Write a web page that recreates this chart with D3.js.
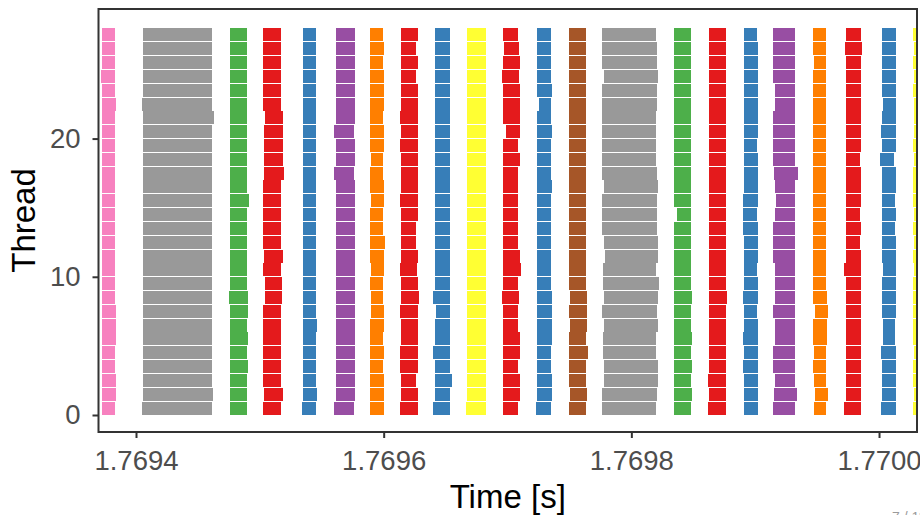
<!DOCTYPE html>
<html>
<head>
<meta charset="utf-8">
<script src="https://cdn.jsdelivr.net/npm/d3@7"></script>
<style>
  body { margin: 0; background: #ffffff; }
  svg { display: block; }
</style>
</head>
<body>
<div id="chart"></div>
<script>
// ---------------- DATA ----------------
// Time origin (s); all start/end values below are microseconds relative to T0.
const T0 = 1.7694;
// Threads 0..27 (index of each start/end array = thread id)
const threads = [0,1,2,3,4,5,6,7,8,9,10,11,12,13,14,15,16,17,18,19,20,21,22,23,24,25,26,27];
const xTickValues = [1.7694, 1.7696, 1.7698, 1.7700];
const yTickValues = [0, 10, 20];

// task type of each consecutive phase (left to right)
const phaseTypes = ["pink","grey","green","red","blue","purple","orange","red","blue","yellow",
                    "red","blue","brown","grey","green","red","blue","purple","orange","red","blue","yellow"];
const typeColors = {
  red: "#E41A1C", blue: "#377EB8", green: "#4DAF4A", purple: "#984EA3", orange: "#FF7F00",
  yellow: "#FFFF33", brown: "#A65628", pink: "#F781BF", grey: "#999999"
};

const p01Start = [-27.5,-27.5,-27.5,-27.5,-27.5,-27.5,-27.5,-27.5,-27.5,-27.5, -27.5,-27.5,-27.5,-27.5,-27.5,-27.5,-27.5,-27.5,-27.5,-27.5, -27.5,-27.5,-27.5,-27.5,-28.3,-27.5,-27.5,-27.5];
const p01End   = [-17.0,-16.2,-16.2,-17.0,-17.0,-16.2,-16.2,-16.2,-17.0,-17.0, -17.0,-17.0,-17.0,-17.0,-17.0,-17.0,-17.0,-17.0,-17.0,-17.0, -17.0,-17.0,-16.2,-17.0,-17.0,-17.0,-17.0,-17.0];

const p02Start = [4.8,5.7,5.7,5.7,5.7,5.7,5.7,5.7,5.7,5.7, 5.7,5.7,5.7,5.7,5.7,5.7,5.7,5.7,5.7,5.7, 5.7,5.7,4.8,5.7,5.7,5.7,5.7,5.7];
const p02End   = [61.4,62.2,61.4,61.4,61.4,61.4,61.4,61.4,61.4,61.4, 61.4,61.4,61.4,61.4,61.4,61.4,61.4,61.4,61.4,61.4, 61.4,63.0,61.4,61.4,61.4,61.4,61.4,61.4];

const p03Start = [75.9,75.9,75.9,75.9,75.9,75.9,75.9,75.9,75.1,75.9, 75.9,75.9,75.9,75.9,75.9,75.9,75.9,75.9,75.9,75.9, 75.9,75.9,75.9,75.9,75.9,75.9,75.9,75.9];
const p03End   = [89.6,89.6,89.6,90.4,89.6,90.4,89.6,90.4,90.4,89.6, 89.6,89.6,89.6,89.6,89.6,91.2,89.6,89.6,89.6,89.6, 89.6,89.6,89.6,89.6,89.6,89.6,89.6,89.6];

const p04Start = [102.6,103.4,102.6,102.6,102.6,102.6,102.6,102.6,104.2,104.2, 102.6,103.4,102.6,102.6,102.6,102.6,102.6,103.4,103.4,103.4, 103.4,104.2,102.6,102.6,102.6,102.6,102.6,102.6];
const p04End   = [117.1,118.7,117.1,117.1,117.1,117.1,117.1,117.1,117.9,117.9, 117.1,118.7,117.1,117.1,117.1,117.1,117.1,119.5,118.7,118.7, 118.7,118.7,117.1,117.1,117.1,117.1,117.1,117.1];

const p05Start = [134.0,134.9,134.9,134.9,134.9,134.9,134.9,134.9,134.9,134.9, 134.9,134.9,134.9,134.9,134.9,134.9,134.9,134.9,134.9,134.9, 134.9,134.9,134.9,134.9,134.9,134.9,134.9,134.9];
const p05End   = [145.4,146.2,145.4,145.4,145.4,145.4,146.2,145.4,145.4,145.4, 145.4,145.4,145.4,145.4,145.4,145.4,145.4,145.4,145.4,145.4, 145.4,145.4,145.4,145.4,145.4,145.4,145.4,145.4];

const p06Start = [159.9,161.5,161.5,161.5,161.5,161.5,161.5,161.5,161.5,161.5, 161.5,161.5,161.5,161.5,161.5,161.5,161.5,159.9,161.5,161.5, 159.9,161.5,161.5,161.5,161.5,161.5,161.5,161.5];
const p06End   = [176.0,176.8,176.8,176.8,176.8,176.8,176.8,176.8,176.8,176.8, 176.8,176.8,176.8,176.8,176.8,176.8,176.8,176.0,176.8,176.8, 176.0,176.8,176.8,176.8,176.8,176.8,176.8,176.8];

const p07Start = [189.0,189.0,189.0,189.0,189.0,189.0,189.0,189.8,189.8,189.0, 189.8,189.0,189.0,189.0,189.0,189.8,189.0,189.0,189.8,189.0, 189.0,189.0,189.0,189.0,189.0,189.0,189.0,189.0];
const p07End   = [200.3,200.3,200.3,199.5,200.3,199.5,200.3,200.3,199.5,199.5, 200.3,200.3,201.1,199.5,199.5,200.3,200.3,199.5,199.5,200.3, 200.3,199.5,200.3,200.3,200.3,199.5,200.3,199.5];

const p08Start = [213.2,214.0,214.0,213.2,213.2,214.0,214.0,213.2,214.0,214.0, 213.2,214.0,214.0,214.0,214.0,213.2,214.0,214.0,214.0,213.2, 214.0,213.2,214.0,214.0,214.0,214.0,214.0,214.0];
const p08End   = [227.7,227.7,226.1,227.7,227.7,227.7,227.7,227.7,228.5,227.7, 226.9,227.7,226.1,226.1,227.7,227.7,227.7,227.7,227.7,227.7, 227.7,227.7,227.7,227.7,226.1,227.7,226.1,227.7];

const p09Start = [239.8,241.4,241.4,241.4,239.8,241.4,241.4,242.2,239.8,241.4, 241.4,241.4,241.4,241.4,241.4,241.4,241.4,241.4,241.4,241.4, 241.4,241.4,241.4,241.4,241.4,241.4,241.4,241.4];
const p09End   = [253.6,253.6,255.2,253.6,253.6,253.6,253.6,253.6,253.6,253.6, 253.6,253.6,253.6,253.6,253.6,253.6,253.6,253.6,253.6,253.6, 253.6,253.6,253.6,253.6,253.6,253.6,253.6,253.6];

const p10Start = [266.5,267.3,267.3,267.3,267.3,267.3,267.3,267.3,267.3,267.3, 267.3,267.3,267.3,267.3,267.3,267.3,267.3,267.3,267.3,267.3, 267.3,267.3,267.3,267.3,267.3,267.3,267.3,267.3];
const p10End   = [282.6,282.6,282.6,282.6,282.6,282.6,282.6,282.6,282.6,282.6, 282.6,282.6,282.6,282.6,282.6,282.6,282.6,282.6,282.6,282.6, 282.6,282.6,282.6,282.6,282.6,282.6,282.6,282.6];

const p11Start = [296.4,296.4,296.4,296.4,296.4,296.4,296.4,296.4,295.5,296.4, 296.4,296.4,296.4,296.4,296.4,296.4,296.4,296.4,296.4,296.4, 298.8,296.4,296.4,296.4,295.5,296.4,297.2,296.4];
const p11End   = [308.5,310.1,310.1,308.5,310.1,310.1,308.5,308.5,309.3,308.5, 310.9,310.1,308.5,308.5,308.5,308.5,308.5,308.5,310.1,308.5, 310.1,310.1,310.1,310.1,309.3,310.1,309.3,308.5];

const p12Start = [323.0,323.8,323.8,323.8,323.8,323.8,323.8,323.8,323.8,323.8, 323.8,323.8,323.8,323.8,323.8,323.8,323.8,323.8,323.8,323.8, 323.8,323.8,325.4,323.8,323.8,323.8,323.8,323.8];
const p12End   = [335.1,335.9,335.9,335.1,335.1,335.9,335.9,335.9,335.9,335.1, 335.1,335.1,335.1,335.1,335.1,335.1,335.9,335.1,335.1,335.1, 335.9,335.1,335.1,335.9,335.1,335.1,335.1,335.1];

const p13Start = [349.6,350.5,349.6,349.6,349.6,349.6,350.5,349.6,350.5,349.6, 349.6,349.6,349.6,349.6,349.6,349.6,349.6,349.6,349.6,349.6, 349.6,349.6,349.6,349.6,349.6,349.6,349.6,349.6];
const p13End   = [363.4,364.2,363.4,363.4,365.0,363.4,364.2,364.2,364.2,363.4, 363.4,363.4,363.4,363.4,363.4,363.4,363.4,363.4,363.4,363.4, 363.4,363.4,363.4,363.4,363.4,363.4,363.4,363.4];

const p14Start = [376.3,376.3,377.9,377.9,377.1,377.1,377.9,376.3,377.9,377.1, 377.1,378.7,377.9,376.3,376.3,376.3,377.9,376.3,376.3,376.3, 376.3,376.3,376.3,376.3,377.9,376.3,376.3,376.3];
const p14End   = [419.9,420.7,421.5,421.5,419.9,419.9,421.5,420.7,421.5,422.3, 419.9,421.5,421.5,420.7,420.7,420.7,421.5,420.7,419.9,419.9, 419.9,419.9,420.7,420.7,421.5,420.7,420.7,419.9];

const p15Start = [434.4,434.4,434.4,434.4,434.4,434.4,434.4,434.4,434.4,434.4, 434.4,434.4,434.4,434.4,436.9,434.4,434.4,434.4,434.4,434.4, 434.4,434.4,434.4,434.4,434.4,434.4,434.4,434.4];
const p15End   = [448.2,449.0,448.2,449.0,448.2,449.0,448.2,448.2,449.0,448.2, 448.2,448.2,448.2,448.2,448.2,448.2,448.2,448.2,448.2,448.2, 448.2,448.2,448.2,448.2,448.2,448.2,448.2,448.2];

const p16Start = [461.9,462.7,461.9,462.7,462.7,462.7,462.7,462.7,462.7,462.7, 462.7,462.7,462.7,462.7,462.7,462.7,462.7,462.7,462.7,462.7, 462.7,462.7,462.7,462.7,462.7,462.7,462.7,462.7];
const p16End   = [476.4,476.4,476.4,476.4,476.4,476.4,476.4,476.4,477.2,476.4, 476.4,476.4,476.4,476.4,476.4,476.4,476.4,476.4,476.4,476.4, 476.4,476.4,476.4,476.4,476.4,476.4,476.4,476.4];

const p17Start = [490.9,490.9,490.9,490.1,490.9,490.1,490.9,490.9,490.1,490.9, 490.9,490.9,490.9,490.1,490.1,490.1,490.9,490.9,490.9,490.9, 490.9,490.9,490.9,490.9,490.9,490.9,490.9,490.9];
const p17End   = [502.2,502.2,502.2,502.2,502.2,502.2,502.2,501.4,502.2,502.2, 501.4,502.2,502.2,502.2,501.4,502.2,502.2,502.2,502.2,501.4, 502.2,502.2,502.2,502.2,502.2,502.2,502.2,501.4];

const p18Start = [514.4,515.2,516.0,514.4,514.4,516.0,516.0,514.4,516.0,516.0, 516.0,514.4,514.4,514.4,516.0,516.8,516.0,515.2,514.4,514.4, 514.4,514.4,516.0,516.0,514.4,514.4,514.4,514.4];
const p18End   = [532.1,533.8,532.1,532.1,532.1,532.1,532.1,532.1,532.1,532.1, 532.1,532.1,532.1,532.1,532.1,532.1,532.1,534.6,532.1,532.1, 532.1,532.1,532.1,532.1,532.1,532.1,532.1,532.1];

const p19Start = [547.5,548.3,547.5,546.7,547.5,546.7,546.7,548.3,546.7,546.7, 546.7,546.7,546.7,546.7,546.7,546.7,546.7,546.7,546.7,546.7, 546.7,546.7,546.7,546.7,546.7,547.5,546.7,546.7];
const p19End   = [557.2,558.8,557.2,557.2,557.2,558.0,558.0,558.8,558.0,557.2, 557.2,557.2,557.2,557.2,557.2,557.2,557.2,557.2,557.2,557.2, 557.2,557.2,557.2,557.2,557.2,557.2,557.2,557.2];

const p20Start = [571.7,573.3,573.3,573.3,573.3,573.3,573.3,573.3,573.3,573.3, 571.7,573.3,573.3,573.3,573.3,573.3,573.3,573.3,573.3,573.3, 573.3,573.3,573.3,573.3,573.3,573.3,572.5,573.3];
const p20End   = [585.4,585.4,585.4,585.4,585.4,585.4,585.4,585.4,585.4,585.4, 585.4,585.4,584.6,585.4,584.6,585.4,585.4,585.4,584.6,585.4, 585.4,585.4,585.4,585.4,585.4,585.4,586.2,585.4];

const p21Start = [601.6,602.4,602.4,602.4,601.6,603.2,603.2,602.4,602.4,602.4, 603.2,602.4,602.4,602.4,602.4,602.4,602.4,602.4,600.8,602.4, 601.6,602.4,603.2,602.4,602.4,602.4,602.4,602.4];
const p21End   = [613.7,613.7,613.7,613.7,613.7,612.9,612.9,613.7,613.7,613.7, 613.7,613.7,613.7,612.9,613.7,612.9,613.7,613.7,612.1,613.7, 613.7,613.7,613.7,613.7,613.7,613.7,613.7,613.7];

const p22Start = [627.4,628.2,627.4,627.4,628.2,627.4,627.4,627.4,627.4,627.4, 628.2,627.4,628.2,627.4,628.2,627.4,627.4,627.4,628.2,627.4, 628.2,628.2,628.2,627.4,628.2,627.4,628.2,627.4];
const p22End   = [645.0,645.0,645.0,645.0,645.0,645.0,645.0,645.0,645.0,645.0, 645.0,645.0,645.0,645.0,645.0,645.0,645.0,645.0,645.0,645.0, 645.0,645.0,645.0,645.0,645.0,645.0,645.0,645.0];

const phaseStarts = [p01Start,p02Start,p03Start,p04Start,p05Start,p06Start,p07Start,p08Start,p09Start,p10Start,p11Start,
                     p12Start,p13Start,p14Start,p15Start,p16Start,p17Start,p18Start,p19Start,p20Start,p21Start,p22Start];
const phaseEnds   = [p01End,p02End,p03End,p04End,p05End,p06End,p07End,p08End,p09End,p10End,p11End,
                     p12End,p13End,p14End,p15End,p16End,p17End,p18End,p19End,p20End,p21End,p22End];

// Build segment records
const segments = [];
phaseTypes.forEach((type, p) => {
  threads.forEach(t => {
    segments.push({
      type, thread: t,
      start: T0 + phaseStarts[p][t] * 1e-6,
      end:   T0 + phaseEnds[p][t] * 1e-6
    });
  });
});

// ---------------- LAYOUT ----------------
const W = 920, H = 515;
const panel = { left: 98.5, right: 917, top: 9, bottom: 432 };
const FONT = "'Liberation Sans', Arial, Helvetica, sans-serif";

const svg = d3.select("#chart").append("svg")
  .attr("width", W).attr("height", H)
  .attr("font-family", FONT);

const x = d3.scaleLinear()
  .domain([1.76936972, 1.77003066])
  .range([panel.left, panel.right]);
const y = d3.scaleLinear()
  .domain([0, 28])
  .range([415, 28]);

svg.append("defs").append("clipPath").attr("id", "clip")
  .append("rect")
  .attr("x", panel.left).attr("y", panel.top)
  .attr("width", panel.right - panel.left).attr("height", panel.bottom - panel.top);

svg.append("rect")
  .attr("x", panel.left).attr("y", panel.top)
  .attr("width", panel.right - panel.left).attr("height", panel.bottom - panel.top)
  .attr("fill", "#ffffff");

const inset = 0.42;
svg.append("g").attr("clip-path", "url(#clip)")
  .selectAll("rect").data(segments).join("rect")
  .attr("x", d => x(d.start))
  .attr("width", d => x(d.end) - x(d.start))
  .attr("y", d => y(d.thread + 1) + inset)
  .attr("height", d => y(d.thread) - y(d.thread + 1) - 2 * inset)
  .attr("fill", d => typeColors[d.type])
  .attr("shape-rendering", "crispEdges");

// panel border
svg.append("rect")
  .attr("x", panel.left).attr("y", panel.top)
  .attr("width", panel.right - panel.left).attr("height", panel.bottom - panel.top)
  .attr("fill", "none").attr("stroke", "#333333").attr("stroke-width", 2);

// axes
const xAxis = d3.axisBottom(x).tickValues(xTickValues).tickFormat(d3.format(".4f"))
  .tickSize(6).tickPadding(12);
const gx = svg.append("g").attr("transform", `translate(0,${panel.bottom})`).call(xAxis);
const yAxis = d3.axisLeft(y).tickValues(yTickValues).tickFormat(d3.format("d"))
  .tickSize(6).tickPadding(12);
const gy = svg.append("g").attr("transform", `translate(${panel.left},0)`).call(yAxis);

[gx, gy].forEach(g => {
  g.select(".domain").remove();
  g.selectAll(".tick line").attr("stroke", "#333333").attr("stroke-width", 2);
  g.selectAll(".tick text").attr("fill", "#4D4D4D").attr("font-size", 27.5)
    .attr("font-family", FONT);
});

// axis titles
svg.append("text")
  .attr("x", (panel.left + panel.right) / 2).attr("y", 508)
  .attr("text-anchor", "middle").attr("font-size", 33).attr("fill", "#000")
  .text("Time [s]");
svg.append("text")
  .attr("transform", `translate(35,${(panel.top + panel.bottom) / 2}) rotate(-90)`)
  .attr("text-anchor", "middle").attr("font-size", 33).attr("fill", "#000")
  .text("Thread");

// slide page number (mostly cut off at the bottom edge, as in the source)
svg.append("text")
  .attr("x", 892).attr("y", 522)
  .attr("font-size", 14).attr("fill", "#9a9a9a")
  .text("7 / 11");
</script>
</body>
</html>
